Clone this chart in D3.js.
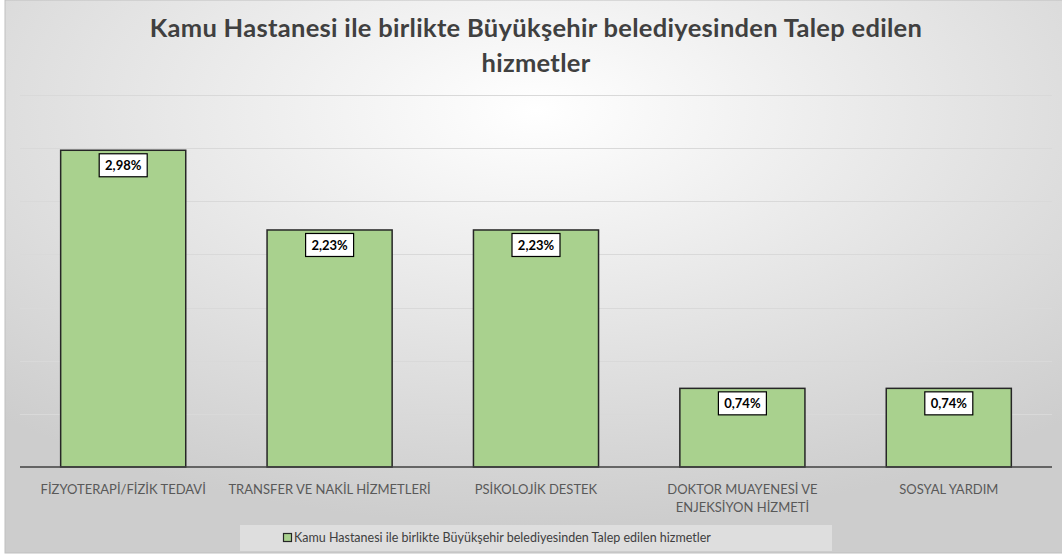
<!DOCTYPE html>
<html>
<head>
<meta charset="utf-8">
<script src="https://cdn.jsdelivr.net/npm/d3@7"></script>
<style>
  body { margin: 0; background: #ffffff; }
  svg { display: block; }
</style>
</head>
<body>
<svg id="chart" width="1062" height="560"></svg>
<script>
// data
var categories = ["FİZYOTERAPİ/FİZİK TEDAVİ", "TRANSFER VE NAKİL HİZMETLERİ", "PSİKOLOJİK DESTEK",
                  "DOKTOR MUAYENESİ VE ENJEKSİYON HİZMETİ", "SOSYAL YARDIM"];
var labelLines = [["FİZYOTERAPİ/FİZİK TEDAVİ"], ["TRANSFER VE NAKİL HİZMETLERİ"], ["PSİKOLOJİK DESTEK"],
                  ["DOKTOR MUAYENESİ VE", "ENJEKSİYON HİZMETİ"], ["SOSYAL YARDIM"]];
var values = [2.98, 2.23, 2.23, 0.74, 0.74];
var gridTicks = [0, 0.5, 1, 1.5, 2, 2.5, 3, 3.5];
var titleLines = ["Kamu Hastanesi ile birlikte Büyükşehir belediyesinden Talep edilen", "hizmetler"];
var seriesName = "Kamu Hastanesi ile birlikte Büyükşehir belediyesinden Talep edilen hizmetler";

var svg = d3.select("#chart"),
    width = +svg.attr("width"),
    height = +svg.attr("height");

var font = "Lato, 'Open Sans', sans-serif";

// background
var defs = svg.append("defs");
var grad = defs.append("radialGradient")
    .attr("id", "bg")
    .attr("cx", "50%").attr("cy", "20%").attr("r", "75%")
    .attr("gradientUnits", "objectBoundingBox");
grad.append("stop").attr("offset", "0%").attr("stop-color", "#ffffff");
grad.append("stop").attr("offset", "100%").attr("stop-color", "#cdcdcd");

svg.append("rect")
    .attr("x", 5).attr("y", 0)
    .attr("width", width).attr("height", 553)
    .attr("fill", "url(#bg)")
    .attr("stroke", "#bfbfbf");

var margin = {left: 20, right: 10, top: 95, bottom: 93};

var x = d3.scaleBand()
    .domain(categories)
    .range([margin.left, width - margin.right])
    .paddingInner(0.394)
    .paddingOuter(0.197);

var y = d3.scaleLinear()
    .domain([0, 3.5])
    .range([height - margin.bottom, margin.top]);

// gridlines
svg.append("g")
    .selectAll("line")
    .data(gridTicks.slice(1))
    .enter().append("line")
      .attr("x1", margin.left)
      .attr("x2", width - margin.right)
      .attr("y1", d => Math.round(y(d)) + 0.5)
      .attr("y2", d => Math.round(y(d)) + 0.5)
      .attr("stroke", "#d9d9d9")
      .attr("stroke-width", 1);

// bars
svg.append("g")
    .selectAll("rect")
    .data(values)
    .enter().append("rect")
      .attr("x", (d, i) => x(categories[i]))
      .attr("y", d => y(d))
      .attr("width", x.bandwidth())
      .attr("height", d => y(0) - y(d))
      .attr("fill", "#a9d18e")
      .attr("stroke", "#262626")
      .attr("stroke-width", 1.5);

// baseline
svg.append("line")
    .attr("x1", margin.left)
    .attr("x2", width - margin.right)
    .attr("y1", y(0))
    .attr("y2", y(0))
    .attr("stroke", "#404040")
    .attr("stroke-width", 1.5);

// data labels
var lab = svg.append("g")
    .selectAll("g")
    .data(values)
    .enter().append("g")
      .attr("transform", (d, i) => "translate(" + (x(categories[i]) + x.bandwidth() / 2) + "," + (y(d) + 15) + ")");

lab.append("rect")
    .attr("x", -24).attr("y", -11.5)
    .attr("width", 48).attr("height", 23)
    .attr("fill", "#ffffff")
    .attr("stroke", "#000000")
    .attr("stroke-width", 1.2);

lab.append("text")
    .attr("text-anchor", "middle")
    .attr("dy", "0.35em")
    .attr("font-family", font)
    .attr("font-weight", "bold")
    .attr("font-size", 13)
    .attr("fill", "#000000")
    .text(d => d.toFixed(2).replace(".", ",") + "%");

// category labels
var cat = svg.append("g")
    .selectAll("text")
    .data(labelLines)
    .enter().append("text")
      .attr("x", (d, i) => x(categories[i]) + x.bandwidth() / 2)
      .attr("y", y(0) + 27)
      .attr("text-anchor", "middle")
      .attr("font-family", font)
      .attr("font-size", 13)
      .attr("fill", "#595959");

cat.selectAll("tspan")
    .data(d => d)
    .enter().append("tspan")
      .attr("x", function() { return this.parentNode.getAttribute("x"); })
      .attr("dy", (d, i) => i ? 18 : 0)
      .text(d => d);

// title
svg.append("g")
    .selectAll("text")
    .data(titleLines)
    .enter().append("text")
      .attr("x", 536)
      .attr("y", (d, i) => 37 + i * 35)
      .attr("text-anchor", "middle")
      .attr("font-family", font)
      .attr("font-weight", "bold")
      .attr("font-size", 25.5)
      .attr("letter-spacing", 0.3)
      .attr("fill", "#404040")
      .text(d => d);

// legend
var legend = svg.append("g");
legend.append("rect")
    .attr("x", 240).attr("y", 525)
    .attr("width", 592).attr("height", 26)
    .attr("fill", "#ffffff")
    .attr("fill-opacity", 0.35);

legend.append("rect")
    .attr("x", 283.5).attr("y", 533.5)
    .attr("width", 8).attr("height", 8)
    .attr("fill", "#a9d18e")
    .attr("stroke", "#262626")
    .attr("stroke-width", 1.2);

legend.append("text")
    .attr("x", 294)
    .attr("y", 542)
    .attr("font-family", font)
    .attr("font-size", 12.5)
    .attr("fill", "#404040")
    .text(seriesName);
</script>
</body>
</html>
